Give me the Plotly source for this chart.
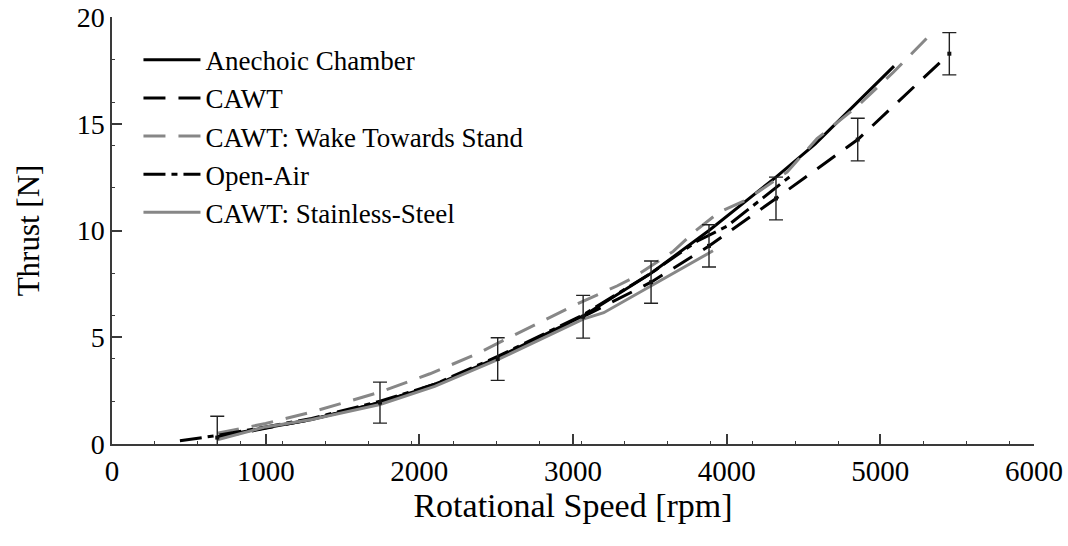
import plotly.graph_objects as go

# ---- data ----
rpm_anechoic = [685, 1000, 1300, 1744, 2100, 2510, 3066, 3508, 3885, 4321, 4575, 5089]
thrust_anechoic = [0.35, 0.75, 1.15, 1.95, 2.75, 4.05, 6.0, 8.0, 10.0, 12.5, 14.05, 17.7]

rpm_cawt = [685, 1000, 1300, 1744, 2100, 2510, 3066, 3508, 3885, 4321, 4853, 5449]
thrust_cawt = [0.3, 0.75, 1.15, 1.94, 2.8, 4.0, 5.96, 7.58, 9.27, 11.5, 14.26, 18.28]

rpm_wake = [685, 1000, 1300, 1744, 2069, 2375, 2544, 2805, 3026, 3286, 3390, 3652,
            3800, 3950, 4132, 4393, 4588, 4848, 5083, 5356]
thrust_wake = [0.5, 0.96, 1.5, 2.43, 3.29, 4.22, 4.84, 5.77, 6.56, 7.4, 7.78, 9.02,
               10.0, 10.85, 11.45, 12.74, 14.3, 15.8, 17.4, 19.4]

rpm_open = [442, 685, 1000, 1300, 1744, 2100, 2510, 3066, 3508, 3807, 4002, 4425]
thrust_open = [0.15, 0.4, 0.8, 1.2, 2.0, 2.8, 4.1, 6.05, 8.0, 9.5, 10.2, 12.6]

rpm_steel = [685, 1000, 1300, 1744, 2100, 2510, 3066, 3200, 3911]
thrust_steel = [0.2, 0.8, 1.15, 1.85, 2.7, 3.95, 5.85, 6.15, 9.05]

rpm_err = [685, 1744, 2510, 3066, 3508, 3885, 4321, 4853, 5449]
thrust_err = [0.3, 1.94, 3.98, 5.96, 7.58, 9.28, 11.5, 14.26, 18.28]
err_val = [1.0, 0.96, 1.0, 1.0, 0.99, 0.99, 1.0, 1.0, 0.99]

x_ticks = [0, 1000, 2000, 3000, 4000, 5000, 6000]
y_ticks = [0, 5, 10, 15, 20]

series_names = ["Anechoic Chamber", "CAWT", "CAWT: Wake Towards Stand",
                "Open-Air", "CAWT: Stainless-Steel"]

BLACK = "#000000"
GRAY = "#878787"
AX = "#3a3a3a"
FONT = "Liberation Serif, DejaVu Serif, Times New Roman, serif"
LW = 3

fig = go.Figure()
fig.add_trace(go.Scatter(x=rpm_anechoic, y=thrust_anechoic, mode="lines",
                         name=series_names[0],
                         line=dict(color=BLACK, width=LW)))
fig.add_trace(go.Scatter(x=rpm_cawt, y=thrust_cawt, mode="lines",
                         name=series_names[1],
                         line=dict(color=BLACK, width=LW, dash="22px,13px")))
fig.add_trace(go.Scatter(x=rpm_wake, y=thrust_wake, mode="lines",
                         name=series_names[2],
                         line=dict(color=GRAY, width=LW, dash="22px,13px")))
fig.add_trace(go.Scatter(x=rpm_open, y=thrust_open, mode="lines",
                         name=series_names[3],
                         line=dict(color=BLACK, width=LW, dash="22px,6px,6px,6px")))
fig.add_trace(go.Scatter(x=rpm_steel, y=thrust_steel, mode="lines",
                         name=series_names[4],
                         line=dict(color=GRAY, width=LW)))
fig.add_trace(go.Scatter(x=rpm_err, y=thrust_err, mode="markers",
                         showlegend=False,
                         marker=dict(color="#111111", size=4, symbol="square"),
                         error_y=dict(type="data", array=err_val, visible=True,
                                      color="#222222", thickness=1.4, width=7)))

fig.update_layout(
    width=1068, height=546,
    margin=dict(l=112, r=34, t=17, b=102, autoexpand=False),
    plot_bgcolor="white", paper_bgcolor="white",
    font=dict(family=FONT, color="black", size=28),
    showlegend=True,
    legend=dict(x=0.0287, y=0.956, xanchor="left", yanchor="top",
                bgcolor="rgba(0,0,0,0)", borderwidth=0,
                font=dict(family=FONT, size=27, color="black"),
                itemwidth=57),
    xaxis=dict(range=[0, 6000], tickmode="array", tickvals=x_ticks,
               ticktext=[str(v) for v in x_ticks], automargin=False,
               ticklabeloverflow="allow",
               ticks="inside", ticklen=10, tickwidth=1.5, tickcolor=AX,
               showline=True, linecolor=AX, linewidth=1.5,
               showgrid=False, zeroline=False,
               tickfont=dict(family=FONT, size=29, color="black"),
               minor=dict(ticks="inside", ticklen=3, dtick=278, tick0=0,
                          tickcolor=AX, tickwidth=1, showgrid=False),
               title=dict(text="Rotational Speed [rpm]",
                          font=dict(family=FONT, size=34, color="black"),
                          standoff=0)),
    yaxis=dict(range=[0, 20], tickmode="array", tickvals=y_ticks,
               ticktext=[str(v) for v in y_ticks], automargin=False,
               ticklabeloverflow="allow",
               ticks="inside", ticklen=10, tickwidth=1.5, tickcolor=AX,
               showline=True, linecolor=AX, linewidth=1.5,
               showgrid=False, zeroline=False,
               tickfont=dict(family=FONT, size=28, color="black"),
               minor=dict(ticks="inside", ticklen=3, dtick=2, tick0=0,
                          tickcolor=AX, tickwidth=1, showgrid=False),
               title=dict(text="Thrust [N]",
                          font=dict(family=FONT, size=31, color="black"),
                          standoff=28)),
)

fig.write_html("out.html")
